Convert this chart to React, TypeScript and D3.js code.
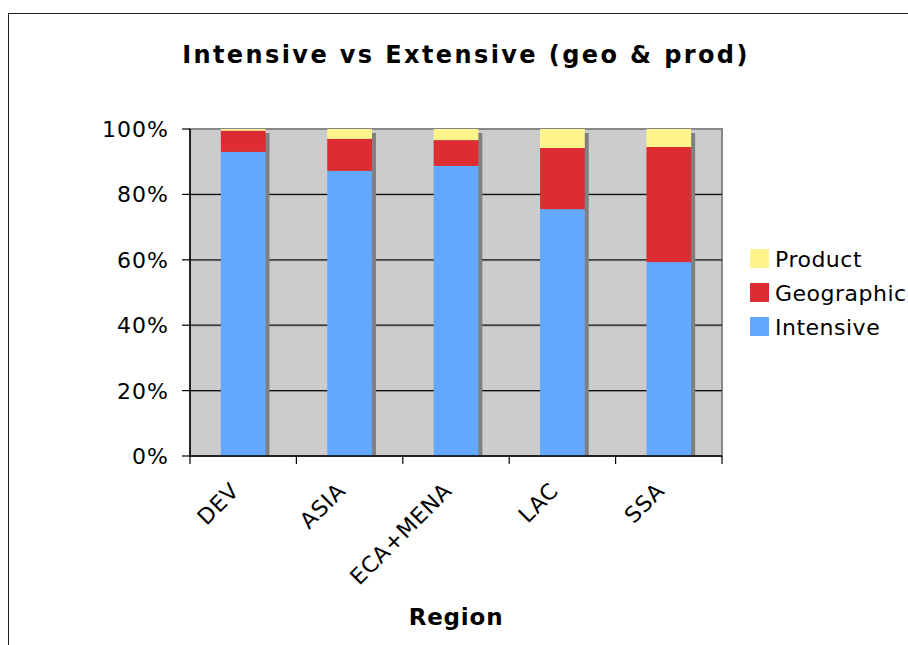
import React from "react";
import * as d3 from "d3";

const categories = ["DEV", "ASIA", "ECA+MENA", "LAC", "SSA"];
const intensive = [93.0, 87.2, 88.7, 75.5, 59.3];
const geographic = [6.5, 9.8, 7.9, 18.7, 35.2];
const product = [0.5, 3.0, 3.4, 5.8, 5.5];
const seriesNames = ["Intensive", "Geographic", "Product"];
const yTicks = [0, 20, 40, 60, 80, 100];

const colors: Record<string, string> = {
  Intensive: "#62A8FF",
  Geographic: "#DD2C32",
  Product: "#FFF48C",
};

const W = 908;
const H = 645;
const plot = { left: 190, right: 722, top: 129, bottom: 456 };
const FONT = "'DejaVu Sans', Verdana, sans-serif";

export default function App() {
  const x = d3
    .scaleBand<string>()
    .domain(categories)
    .range([plot.left, plot.right])
    .paddingInner(0.58)
    .paddingOuter(0.29);
  const y = d3.scaleLinear().domain([0, 100]).range([plot.bottom, plot.top]);

  const rows = categories.map((c, i) => ({
    cat: c,
    Intensive: intensive[i],
    Geographic: geographic[i],
    Product: product[i],
  }));
  const stack = d3.stack<any>().keys(seriesNames)(rows);

  const step = (plot.right - plot.left) / categories.length;
  const boundaries = d3.range(categories.length + 1).map((i) => plot.left + i * step);

  return (
    <svg width={W} height={H} style={{ position: "absolute", left: 0, top: 0 }}>
      <rect x={0} y={0} width={W} height={H} fill="#fff" />
      <rect x={8.5} y={13.5} width={W} height={H} fill="#fff" stroke="#222" strokeWidth={1} />
      <text
        x={466}
        y={63}
        textAnchor="middle"
        fontFamily={FONT}
        fontWeight="bold"
        fontSize={24}
        letterSpacing={2.4}
        fill="#000"
      >
        Intensive vs Extensive (geo &amp; prod)
      </text>

      {/* plot background */}
      <rect
        x={plot.left}
        y={plot.top}
        width={plot.right - plot.left}
        height={plot.bottom - plot.top}
        fill="#CCCCCC"
        stroke="#888"
        strokeWidth={2}
      />
      {/* gridlines */}
      {yTicks.slice(1, -1).map((t) => (
        <g key={t}>
          <line x1={plot.left} x2={plot.right} y1={y(t) + 1} y2={y(t) + 1} stroke="#aaa" strokeWidth={1} />
          <line x1={plot.left} x2={plot.right} y1={y(t)} y2={y(t)} stroke="#111" strokeWidth={1.2} />
        </g>
      ))}

      {/* shadows */}
      {categories.map((c, i) => {
        const total = intensive[i] + geographic[i] + product[i];
        return (
          <rect
            key={"s" + c}
            x={(x(c) as number) + 4}
            y={y(total) + 4}
            width={x.bandwidth()}
            height={plot.bottom - y(total) - 4}
            fill="#808080"
          />
        );
      })}

      {/* bars */}
      {stack.map((s) => (
        <g key={s.key} fill={colors[s.key]}>
          {s.map((d, i) => (
            <rect
              key={i}
              x={x(categories[i]) as number}
              y={y(d[1])}
              width={x.bandwidth()}
              height={y(d[0]) - y(d[1])}
            />
          ))}
        </g>
      ))}

      {/* axes */}
      <line x1={plot.left} x2={plot.left} y1={plot.top} y2={plot.bottom} stroke="#000" strokeWidth={1.5} />
      <line x1={plot.left} x2={plot.right} y1={plot.bottom} y2={plot.bottom} stroke="#000" strokeWidth={1.5} />
      {yTicks.map((t) => (
        <g key={"yt" + t}>
          <line x1={plot.left - 8} x2={plot.left} y1={y(t)} y2={y(t)} stroke="#000" strokeWidth={1.2} />
          <text
            x={plot.left - 21}
            y={y(t)}
            dy="0.36em"
            textAnchor="end"
            fontFamily={FONT}
            fontSize={22}
            letterSpacing={1}
            fill="#000"
          >
            {t + "%"}
          </text>
        </g>
      ))}
      {boundaries.map((b, i) => (
        <line key={"xt" + i} x1={b} x2={b} y1={plot.bottom} y2={plot.bottom + 8} stroke="#000" strokeWidth={1.2} />
      ))}
      {categories.map((c) => {
        const cx = (x(c) as number) + x.bandwidth() / 2;
        return (
          <text
            key={"xl" + c}
            transform={`translate(${cx - 14},${plot.bottom + 25}) rotate(-45)`}
            textAnchor="end"
            dy="0.72em"
            fontFamily={FONT}
            fontSize={22}
            letterSpacing={0.7}
            fill="#000"
          >
            {c}
          </text>
        );
      })}
      <text x={456} y={625} textAnchor="middle" fontFamily={FONT} fontWeight="bold" fontSize={23} letterSpacing={0.8} fill="#000">
        Region
      </text>

      {/* legend */}
      {["Product", "Geographic", "Intensive"].map((k, i) => (
        <g key={"lg" + k} transform={`translate(750,${249 + i * 34})`}>
          <rect x={0} y={0} width={19} height={19} fill={colors[k]} />
          <text x={25} y={10} dy="0.36em" fontFamily={FONT} fontSize={22} letterSpacing={0.5} fill="#000">
            {k}
          </text>
        </g>
      ))}
    </svg>
  );
}
